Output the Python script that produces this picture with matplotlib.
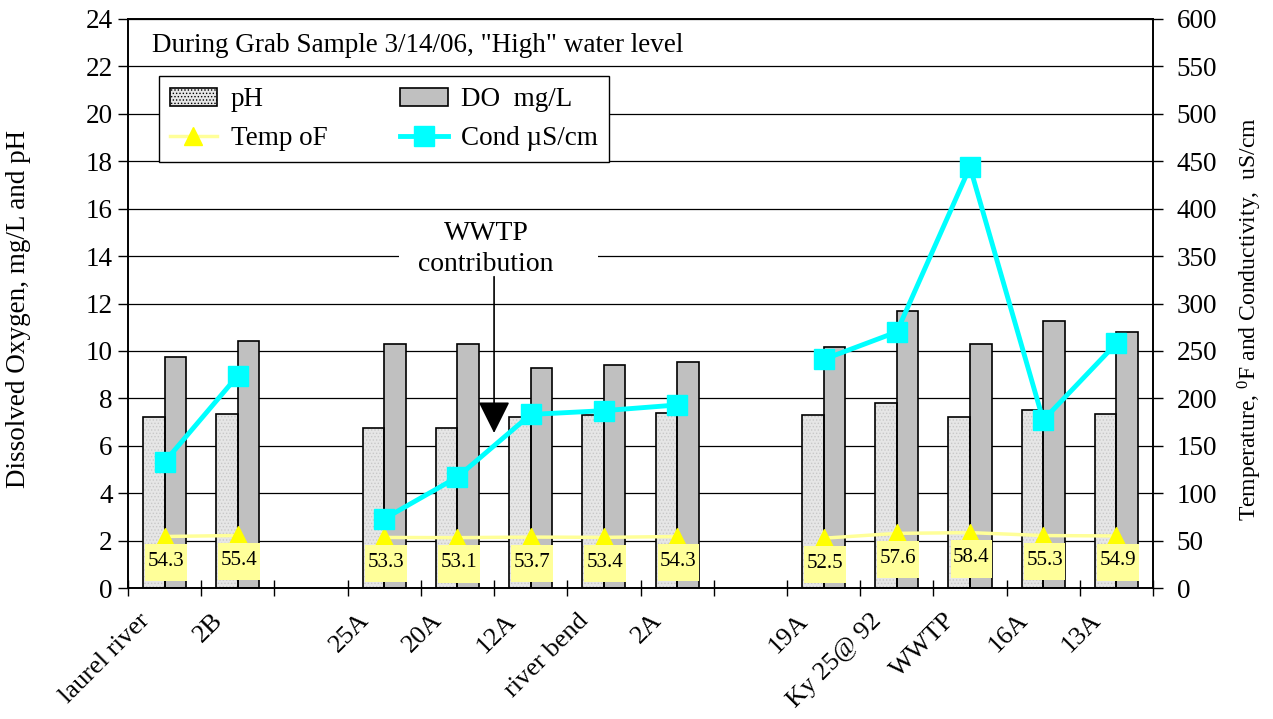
import numpy as np
import matplotlib
matplotlib.use("Agg")
import matplotlib.pyplot as plt
from matplotlib.patches import Patch
from matplotlib.lines import Line2D
from matplotlib.path import Path
from matplotlib.transforms import ScaledTranslation

plt.rcParams['font.family'] = ['Liberation Serif', 'DejaVu Serif']
plt.rcParams['mathtext.fontset'] = 'custom'
plt.rcParams['mathtext.rm'] = 'Liberation Serif'
plt.rcParams['hatch.linewidth'] = 0.6

categories = ["laurel river", "2B", "", "25A", "20A", "12A", "river bend", "2A", "",
              "19A", "Ky 25@ 92", "WWTP", "16A", "13A"]
ph = [7.2, 7.35, np.nan, 6.75, 6.75, 7.2, 7.3, 7.4, np.nan, 7.3, 7.8, 7.2, 7.5, 7.35]
do = [9.75, 10.4, np.nan, 10.3, 10.3, 9.3, 9.4, 9.55, np.nan, 10.15, 11.7, 10.3, 11.25, 10.8]
temp = [54.3, 55.4, np.nan, 53.3, 53.1, 53.7, 53.4, 54.3, np.nan, 52.5, 57.6, 58.4, 55.3, 54.9]
cond = [133, 224, np.nan, 73, 117, 183, 187, 193, np.nan, 241, 270, 444, 177, 258]


def make_box(left, right, bottom, top):
    """Rectangle box style with separate paddings (fractions of font size)."""
    def box(x0, y0, width, height, mutation_size, *args):
        l = left * mutation_size
        r = right * mutation_size
        b = bottom * mutation_size
        t = top * mutation_size
        xa, xb = x0 - l, x0 + width + r
        ya, yb = y0 - b, y0 + height + t
        return Path([(xa, ya), (xb, ya), (xb, yb), (xa, yb), (xa, ya)], closed=True)
    return box


x = np.arange(len(categories))
w = 0.295

fig = plt.figure(figsize=(12.73, 7.19), dpi=100)
ax = fig.add_axes([128/1273, 1-588/719, 1025/1273, 569/719])
ax2 = ax.twinx()

# bars
ax.bar(x - w/2, ph, w, color='#E6E6E6', edgecolor='#C8C8C8', hatch='.....', linewidth=0, zorder=2)
ax.bar(x - w/2, ph, w, color='none', edgecolor='black', linewidth=1.2, zorder=2.1)
ax.bar(x + w/2, do, w, color='#C0C0C0', edgecolor='black', linewidth=1.2, zorder=2)

ax.set_xlim(-0.5, len(categories) - 0.5)
ax.set_ylim(0, 24)
ax.set_yticks(np.arange(0, 25, 2))
ax.yaxis.grid(True, color='black', linewidth=0.9)
ax.set_axisbelow(True)
ax.tick_params(axis='y', direction='out', length=7, width=1, labelsize=19.5, pad=4)
ax.set_ylabel("Dissolved Oxygen, mg/L and pH", fontsize=19.5)
ax.yaxis.label.set_va('center')
ax.yaxis.set_label_coords(-0.1073, 0.49)

bounds = np.arange(-0.5, len(categories), 1.0)
ax.set_xticks(bounds)
ax.set_xticklabels(list(categories) + [""], rotation=45, ha='right', va='center',
                   rotation_mode='anchor', fontsize=19)
ax.tick_params(axis='x', direction='inout', length=12, width=1, pad=0)
shift = ScaledTranslation(13 / 72, -15 / 72, fig.dpi_scale_trans)
for lab in ax.get_xticklabels():
    lab.set_transform(lab.get_transform() + shift)

ax2.set_ylim(0, 600)
ax2.set_yticks(np.arange(0, 601, 50))
ax2.tick_params(axis='y', direction='out', length=7, width=1, labelsize=19.5, pad=10)
ax2.set_ylabel(r"Temperature, $\mathregular{^{0}}$F and Conductivity,  uS/cm", fontsize=17)
ax2.yaxis.label.set_va('center')
ax2.yaxis.set_label_coords(1.0946, 0.473)

for a in (ax, ax2):
    for s in a.spines.values():
        s.set_linewidth(1.2)

ax2.plot(x, temp, color='#FFFF99', lw=2.5, marker='^', markersize=13,
         markerfacecolor='#FFFF00', markeredgecolor='#FFFF00', zorder=3)
ax2.plot(x, cond, color='#00FFFF', lw=3.5, marker='s', markersize=14,
         markerfacecolor='#00FFFF', markeredgecolor='#00FFFF', zorder=4)

for xi, t in zip(x, temp):
    if not np.isnan(t):
        ax2.annotate(f"{t:.1f}", xy=(xi, t), xytext=(1, -18), textcoords='offset points',
                     ha='center', va='center', fontsize=15, zorder=5,
                     bbox=dict(boxstyle=make_box(0.12, 0.12, 0.5, 0.38), fc='#FFFF99', ec='none'))

ax2.text(0.0234, 0.9526, 'During Grab Sample 3/14/06, "High" water level', transform=ax2.transAxes,
         ha='left', va='center', fontsize=19.5, zorder=6)

# WWTP contribution note with arrow
ax2.text(4.39, 14.3 * 25, "WWTP\ncontribution", ha='center', va='center', fontsize=20,
         linespacing=1.28, zorder=6,
         bbox=dict(boxstyle=make_box(0.7, 1.6, 0.05, 0.05), fc='white', ec='none'))
ax2.annotate("", xy=(4.5, 6.54 * 25), xytext=(4.5, 13.13 * 25),
             arrowprops=dict(arrowstyle='-|>,head_length=0.8,head_width=0.4',
                             color='black', lw=1.2, mutation_scale=25, shrinkA=0, shrinkB=0),
             zorder=6)

handles = [Patch(facecolor='#E6E6E6', edgecolor='black', hatch='.....', linewidth=1.2),
           Line2D([], [], color='#FFFF99', lw=2.5, marker='^', markersize=13,
                  markerfacecolor='#FFFF00', markeredgecolor='#FFFF00'),
           Patch(facecolor='#C0C0C0', edgecolor='black', linewidth=1.2),
           Line2D([], [], color='#00FFFF', lw=3.5, marker='s', markersize=14,
                  markerfacecolor='#00FFFF', markeredgecolor='#00FFFF')]
labels = ["pH", "Temp oF", "DO  mg/L", "Cond \u00b5S/cm"]
leg = ax2.legend(handles, labels, ncol=2, loc='upper left', bbox_to_anchor=(0.030, 0.899),
                 fontsize=19.5, frameon=True, fancybox=False, edgecolor='black',
                 framealpha=1, handlelength=1.75, handleheight=0.62, handletextpad=0.5,
                 columnspacing=2.7, labelspacing=0.5, borderpad=0.4, borderaxespad=0)
leg.get_frame().set_linewidth(1.0)
leg.set_zorder(10)

fig.savefig("out.png", dpi=100)
